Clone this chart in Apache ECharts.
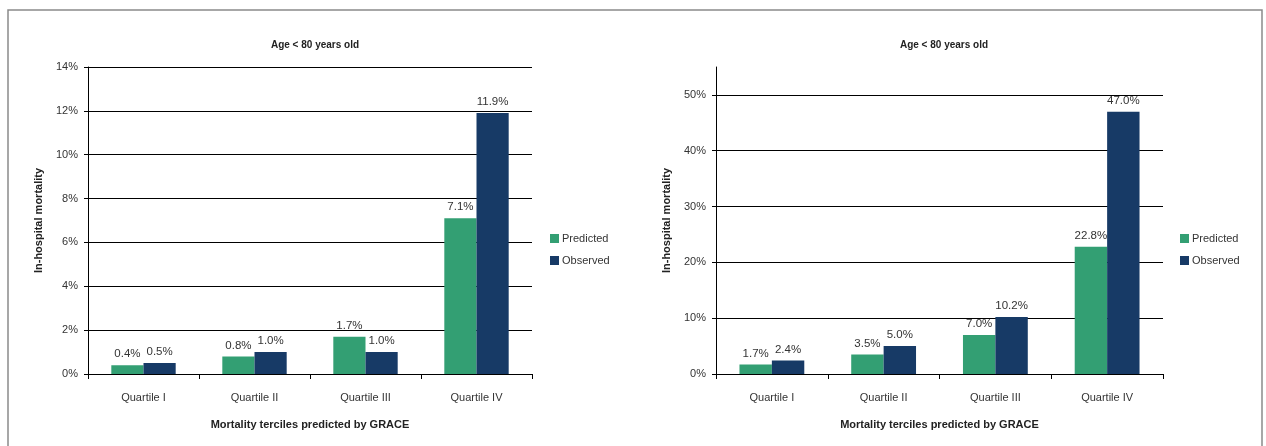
<!DOCTYPE html>
<html>
<head>
<meta charset="utf-8">
<script src="https://cdn.jsdelivr.net/npm/echarts@6/dist/echarts.min.js"></script>
<style>
  html, body { margin: 0; padding: 0; background: #fff; }
  #chart { width: 1266px; height: 446px; }
</style>
</head>
<body>
<div id="chart"></div>
<script>
var categories = ['Quartile I', 'Quartile II', 'Quartile III', 'Quartile IV'];
var predictedLeft = [0.4, 0.8, 1.7, 7.1];
var observedLeft = [0.5, 1.0, 1.0, 11.9];
var predictedRight = [1.7, 3.5, 7.0, 22.8];
var observedRight = [2.4, 5.0, 10.2, 47.0];
var seriesNames = ['Predicted', 'Observed'];
var chartTitle = 'Age < 80 years old';
var xTitle = 'Mortality terciles predicted by GRACE';
var yTitle = 'In-hospital mortality';

var GREEN = '#339f73';
var NAVY = '#173a66';
var FONT = '"Liberation Sans", Arial, sans-serif';

var chart = echarts.init(document.getElementById('chart'));

function xAxisFor(gridIndex) {
    return {
        type: 'category',
        gridIndex: gridIndex,
        data: categories,
        name: xTitle,
        nameLocation: 'middle',
        nameGap: 45,
        nameTextStyle: { fontFamily: FONT, fontWeight: 'bold', fontSize: 11, color: '#222' },
        axisLine: { lineStyle: { color: '#000', width: 1 } },
        axisTick: { show: true, length: 5, lineStyle: { color: '#000' } },
        axisLabel: { fontFamily: FONT, fontSize: 11, color: '#333', margin: 18 }
    };
}

function yAxisFor(gridIndex, max, interval) {
    return {
        type: 'value',
        gridIndex: gridIndex,
        min: 0,
        max: max,
        interval: interval,
        name: yTitle,
        nameLocation: 'middle',
        nameGap: 44,
        nameRotate: 90,
        nameTextStyle: { fontFamily: FONT, fontWeight: 'bold', fontSize: 11, color: '#222' },
        axisLine: { show: true, lineStyle: { color: '#000', width: 1 } },
        axisTick: { show: true, length: 4, lineStyle: { color: '#000' } },
        axisLabel: {
            fontFamily: FONT, fontSize: 11, color: '#333', margin: 10,
            showMaxLabel: max % interval === 0,
            formatter: function (v) { return v + '%'; }
        },
        splitLine: { show: true, showMaxLine: max % interval === 0, lineStyle: { color: '#000', width: 1 } }
    };
}

function barSeries(name, data, idx, color) {
    return {
        name: name,
        type: 'bar',
        xAxisIndex: idx,
        yAxisIndex: idx,
        data: data,
        barGap: '0%',
        barCategoryGap: '42%',
        itemStyle: { color: color },
        label: {
            show: true,
            position: 'top',
            distance: 5,
            fontFamily: FONT,
            fontSize: 11.5,
            color: '#333',
            formatter: function (p) { return p.value.toFixed(1) + '%'; }
        }
    };
}

function legendAt(left) {
    return {
        data: seriesNames,
        orient: 'vertical',
        left: left,
        top: 228,
        itemWidth: 9,
        itemHeight: 9,
        itemGap: 11,
        icon: 'rect',
        selectedMode: false,
        textStyle: { fontFamily: FONT, fontSize: 11, color: '#333', padding: [0, 0, 0, -2] }
    };
}

var option = {
    animation: false,
    backgroundColor: '#fff',
    graphic: [{
        type: 'polyline',
        shape: { points: [[8, 446], [8, 10], [1262, 10], [1262, 446]] },
        style: { stroke: '#8a8a8a', lineWidth: 1.5, fill: null }
    }],
    title: [
        { text: chartTitle, left: 310, top: 35, textAlign: 'center',
          textStyle: { fontFamily: FONT, fontWeight: 'bold', fontSize: 10, color: '#222' } },
        { text: chartTitle, left: 939, top: 35, textAlign: 'center',
          textStyle: { fontFamily: FONT, fontWeight: 'bold', fontSize: 10, color: '#222' } }
    ],
    legend: [legendAt(545), legendAt(1175)],
    grid: [
        { left: 88, right: 734, top: 67, bottom: 72 },
        { left: 716, right: 103, top: 67, bottom: 72 }
    ],
    xAxis: [xAxisFor(0), xAxisFor(1)],
    yAxis: [yAxisFor(0, 14, 2), yAxisFor(1, 55, 10)],
    series: [
        barSeries(seriesNames[0], predictedLeft, 0, GREEN),
        barSeries(seriesNames[1], observedLeft, 0, NAVY),
        barSeries(seriesNames[0], predictedRight, 1, GREEN),
        barSeries(seriesNames[1], observedRight, 1, NAVY)
    ]
};

chart.setOption(option);
</script>
</body>
</html>
